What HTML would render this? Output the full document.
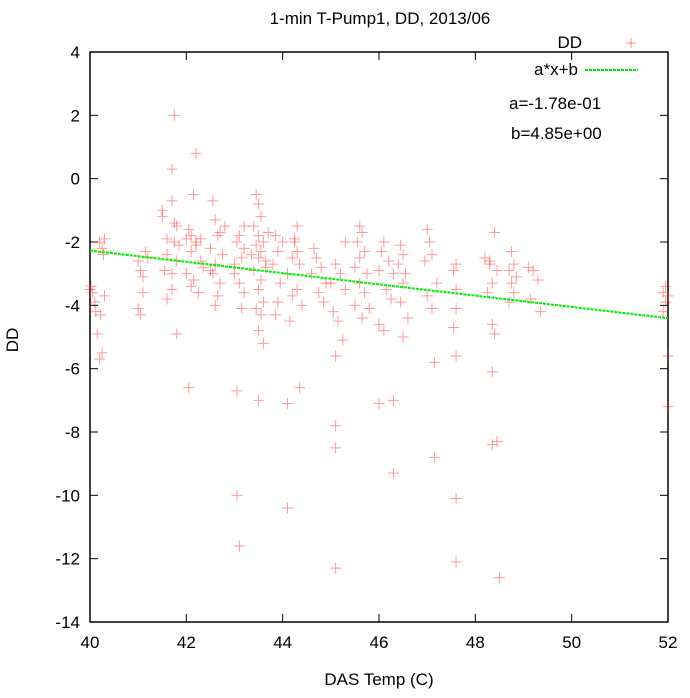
<!DOCTYPE html>
<html><head><meta charset="utf-8"><style>
body{margin:0;background:#fff;}
svg{display:block;font-family:"Liberation Sans",sans-serif;}
</style></head><body>
<svg id="chart" width="690" height="698">
<text x="380" y="24" font-size="17" text-anchor="middle">1-min T-Pump1, DD, 2013/06</text>
<g id="plot"></g>
<text x="18" y="340" font-size="17" text-anchor="middle" transform="rotate(-90 18 340)">DD</text>
<text x="379" y="685" font-size="17" text-anchor="middle">DAS Temp (C)</text>
<g>
<text x="582" y="48" font-size="17" text-anchor="end">DD</text>
<g stroke="rgba(255,0,0,0.45)"><line x1="626" y1="43" x2="636" y2="43"/><line x1="631" y1="38" x2="631" y2="48"/></g>
<text x="578" y="75" font-size="17" text-anchor="end">a*x+b</text>
<line x1="585" y1="70" x2="638" y2="70" stroke="#00ee00" stroke-width="2" stroke-dasharray="3,1"/>
<text x="509" y="109" font-size="17">a=-1.78e-01</text>
<text x="511" y="139" font-size="17">b=4.85e+00</text>
</g>
</svg>
<script>
const xTicks=[40,42,44,46,48,50,52];
const yTicks=[-14,-12,-10,-8,-6,-4,-2,0,2,4];
const fitA=-0.178;
const fitB=4.85;
const xs=[40.02,40.05,40.1,40.12,40.15,40.2,40.25,40.2,40.25,40.3,40.28,40.3,40.22,40.0,
41.0,41.05,41.1,41.1,41.0,41.05,41.15,41.2,
41.75,41.7,41.7,41.5,41.75,41.8,41.6,41.75,41.6,41.8,41.55,41.7,41.7,41.6,41.8,41.85,41.5,
42.2,42.15,42.05,42.1,42.0,42.2,42.1,42.3,42.0,42.15,42.1,42.25,42.05,42.3,42.2,42.35,
42.55,42.6,42.7,42.65,42.5,42.75,42.6,42.55,42.7,42.65,42.6,42.8,42.5,
43.1,43.05,43.2,43.15,43.0,43.1,43.2,43.05,43.05,43.1,43.2,43.0,43.15,
43.45,43.5,43.55,43.4,43.5,43.6,43.45,43.55,43.5,43.65,43.4,43.55,43.5,43.6,43.45,43.55,43.5,43.6,43.5,43.7,43.35,43.65,
43.85,43.9,43.8,43.95,43.9,43.85,44.0,
44.25,44.3,44.2,44.35,44.1,44.3,44.2,44.4,44.15,44.1,44.1,44.35,44.3,44.25,
44.7,44.8,44.6,44.9,44.75,44.85,44.65,
45.1,45.2,45.0,45.3,45.05,45.15,45.25,45.1,45.1,45.1,45.3,45.1,
45.6,45.65,45.55,45.7,45.6,45.5,45.75,45.6,45.7,45.5,45.65,45.8,
46.1,46.05,46.2,46.0,46.3,46.15,46.25,46.0,46.1,46.0,46.3,46.3,
46.45,46.5,46.4,46.55,46.5,46.45,46.6,46.5,
47.05,47.1,46.95,47.2,47.0,47.1,47.15,47.15,47.0,
47.6,47.55,47.6,47.6,47.55,47.6,47.6,47.6,
48.4,48.2,48.3,48.45,48.35,48.25,48.35,48.4,48.35,48.35,48.45,48.5,48.3,
48.75,48.8,48.7,48.85,48.75,48.8,48.7,
49.1,49.2,49.3,49.15,49.35,
51.95,51.9,52.0,51.95,51.9,52.0,52.0];
const ys=[-3.4,-3.6,-3.9,-4.2,-4.9,-5.7,-5.5,-2.0,-2.2,-1.9,-2.4,-3.7,-4.3,-3.5,
-2.6,-2.9,-3.1,-3.6,-4.1,-4.3,-2.3,-2.5,
2.0,0.3,-0.7,-1.0,-1.4,-1.5,-1.9,-2.0,-2.4,-2.6,-2.9,-3.0,-3.5,-3.8,-4.9,-2.1,-1.2,
0.8,-0.5,-1.6,-1.8,-1.9,-2.0,-2.3,-2.6,-3.0,-3.2,-3.4,-3.6,-6.6,-1.9,-2.1,-2.8,
-0.7,-1.3,-1.7,-1.8,-2.2,-2.4,-2.7,-3.0,-3.3,-3.7,-4.0,-1.5,-2.9,
-1.8,-2.0,-2.2,-2.5,-3.0,-3.3,-3.6,-6.7,-10.0,-11.6,-1.5,-2.7,-4.1,
-0.5,-0.8,-1.2,-1.5,-1.8,-2.0,-2.1,-2.3,-2.5,-2.6,-2.9,-3.2,-3.5,-3.9,-4.1,-4.3,-4.8,-5.2,-7.0,-1.7,-2.4,-2.8,
-1.8,-2.3,-2.7,-3.3,-3.9,-4.3,-2.0,
-2.0,-2.3,-2.5,-2.7,-3.0,-3.5,-3.7,-4.0,-4.5,-7.1,-10.4,-6.6,-1.5,-1.9,
-2.5,-2.8,-3.0,-3.3,-3.6,-3.9,-2.2,
-2.7,-3.0,-3.3,-3.5,-4.2,-4.5,-5.1,-7.8,-8.5,-12.3,-2.0,-5.6,
-1.5,-1.7,-2.0,-2.3,-2.5,-2.8,-3.0,-3.3,-3.6,-4.0,-4.4,-4.1,
-2.0,-2.3,-2.6,-2.9,-3.0,-3.5,-3.8,-4.6,-4.8,-7.1,-7.0,-9.3,
-2.1,-2.4,-2.7,-3.0,-3.3,-3.9,-4.4,-5.0,
-2.0,-2.4,-2.6,-3.3,-3.7,-4.1,-5.8,-8.8,-1.6,
-2.7,-2.9,-3.5,-4.1,-4.7,-5.6,-10.1,-12.1,
-1.7,-2.5,-2.7,-2.9,-3.3,-3.6,-4.6,-4.9,-6.1,-8.4,-8.3,-12.6,-2.6,
-2.3,-2.7,-2.9,-3.1,-3.3,-3.6,-3.9,
-2.8,-2.9,-3.2,-3.8,-4.2,
-3.4,-3.6,-3.7,-3.9,-4.2,-5.6,-7.2];
const L=90,R=668,T=52,B=622;
const xS=v=>L+(v-40)/(52-40)*(R-L);
const yS=v=>B-(v+14)/(4+14)*(B-T);
const NS='http://www.w3.org/2000/svg';
const g=document.getElementById('plot');
function mk(t,a){const e=document.createElementNS(NS,t);for(const k in a)e.setAttribute(k,a[k]);g.appendChild(e);return e;}
xTicks.forEach(v=>{
  const x=xS(v);
  const t1=mk('line',{x1:x,y1:B,x2:x,y2:B-8,stroke:'#000'});
  
  
  const t2=mk('line',{x1:x,y1:T,x2:x,y2:T+8,stroke:'#000'});
  
  
  const tx=mk('text',{x:x,y:B+26,'font-size':17,'text-anchor':'middle'});
  tx.textContent=v;
  
  
});
yTicks.forEach(v=>{
  const y=yS(v);
  const t1=mk('line',{x1:L,y1:y,x2:L+8,y2:y,stroke:'#000'});
  
  
  const t2=mk('line',{x1:R,y1:y,x2:R-8,y2:y,stroke:'#000'});
  
  
  const tx=mk('text',{x:L-10,y:y+6,'font-size':17,'text-anchor':'end'});
  tx.textContent=v;
  
  
});
const box=mk('rect',{x:L,y:T,width:R-L,height:B-T,fill:'none',stroke:'#000','stroke-width':1.5});


xs.forEach((v,i)=>{
  const x=xS(v),y=yS(ys[i]);
  const p=mk('path',{d:`M${x-5.5} ${y}H${x+5.5}M${x} ${y-5.5}V${y+5.5}`,stroke:'rgba(255,0,0,0.4)','stroke-width':1});
  
  
});
const fl=mk('line',{x1:xS(40),y1:yS(fitA*40+fitB),x2:xS(52),y2:yS(fitA*52+fitB),stroke:'#00ee00','stroke-width':2,'stroke-dasharray':'3,1'});


</script>
</body></html>
